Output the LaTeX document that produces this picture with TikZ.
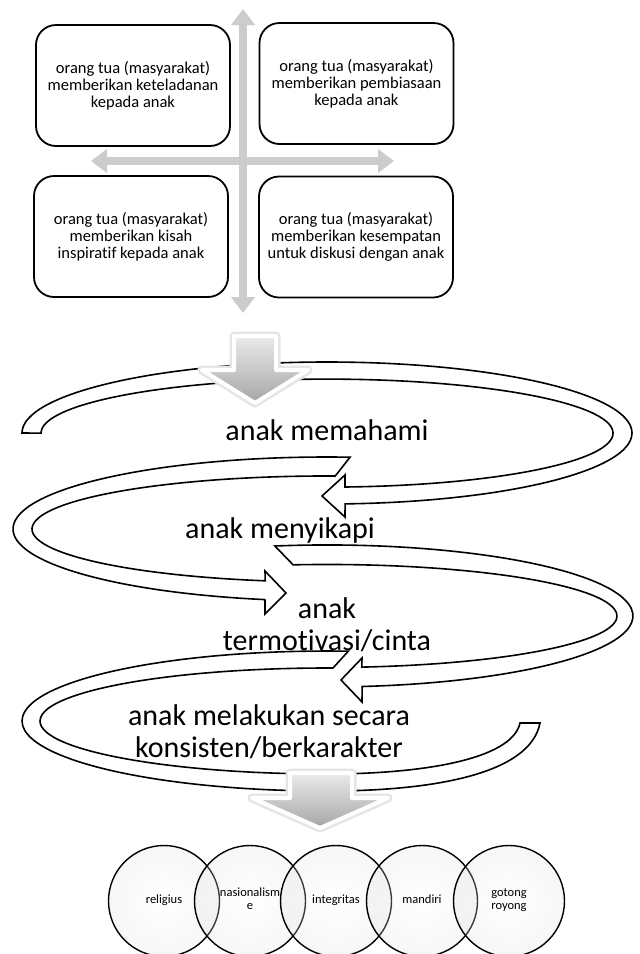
\documentclass[tikz,border=0pt]{standalone}
\usepackage{fontspec}
\setmainfont{Carlito}[Ligatures=NoCommon]
\usetikzlibrary{arrows.meta}

\begin{document}
\begin{tikzpicture}[x=1pt, y=-1pt,
  quad/.style={draw, line width=1.8pt, rounded corners=20pt, minimum width=194pt, minimum height=121pt, align=center, font=\fontsize{16.5}{17}\selectfont},
  axis/.style={draw=black!20, line width=8pt, {Triangle[width=23pt,length=16pt]}-{Triangle[width=23pt,length=16pt]}},
  band/.style={draw=black, line width=1.6pt, fill=white, line join=miter},
  bigarrow/.style={draw=white, line width=4pt, line join=round, top color=black!8, bottom color=black!35, preaction={draw=black!10, line width=9pt, line join=round}},
  step label/.style={anchor=base, align=center, font=\fontsize{30}{32}\selectfont},
  value/.style={circle, draw, line width=1.4pt, minimum size=111pt, inner sep=0pt, align=center, shading=radial, inner color=white, outer color=black!12, fill opacity=0.25, text opacity=1, execute at begin node=\strut, font=\fontsize{12.5}{13}\selectfont}]
\useasboundingbox[fill=white] (0,0) rectangle (640,954);

\node[quad] (keteladanan) at (133,85.5) {orang tua (masyarakat)\\memberikan keteladanan\\kepada anak};
\node[quad] (pembiasaan) at (356.5,83.5) {orang tua (masyarakat)\\memberikan pembiasaan\\kepada anak};
\node[quad] (kisah) at (131,236.5) {orang tua (masyarakat)\\memberikan kisah\\inspiratif kepada anak};
\node[quad] (diskusi) at (356,237) {orang tua (masyarakat)\\memberikan kesempatan\\untuk diskusi dengan anak};
\coordinate (up) at (243,9);
\coordinate (down) at (243,313);
\coordinate (left) at (91,161);
\coordinate (right) at (394,161);
\draw[axis] (up) -- (down);
\draw[axis] (left) -- (right);

\draw[band] (22,433) arc[start angle=180, end angle=446.6, x radius=305, y radius=71] -- (345,517) -- (322,496) -- (345,475) -- (345,487) arc[start angle=446.4, end angle=180, x radius=286, y radius=54] -- cycle;
\draw[band] (350,457.2) arc[start angle=274.2, end angle=101.4, x radius=314, y radius=72] -- (265,614) -- (286,593) -- (265,571) -- (265.2,580.8) arc[start angle=102.1, end angle=271.6, x radius=295, y radius=53] -- cycle;
\draw[band] (274.9,546) arc[start angle=260.2, end angle=443.4, x radius=306, y radius=71] -- (362,702) -- (341,680) -- (362,658) -- (361.8,667.1) arc[start angle=443.1, end angle=263.3, x radius=290, y radius=51.5] -- cycle;
\draw[band] (348.3,651.2) arc[start angle=274, end angle=90, x radius=305, y radius=70] .. controls (430,791) and (530,775) .. (540,723) -- (520,723) .. controls (512,760) and (420,774) .. (327,774) arc[start angle=90, end angle=271.2, x radius=287, y radius=53] -- cycle;

\draw[bigarrow] (234,336) -- (276,336) -- (276,370) -- (308,370) -- (255,403) -- (202,370) -- (234,370) -- cycle;
\draw[bigarrow] (290,773) -- (352,773) -- (352,798) -- (388,798) -- (320,828) -- (252,798) -- (290,798) -- cycle;

\node[step label] (memahami) at (327,440) {anak memahami};
\node[step label] (menyikapi) at (280,538) {anak menyikapi};
\node[step label] (termotivasi) at (327,650) {anak\\termotivasi/cinta};
\node[step label] (konsisten) at (269,757) {anak melakukan secara\\konsisten/berkarakter};

\node[value] (religius) at (164,901) {religius};
\node[value] (nasionalisme) at (250,901) {nasionalism\\e};
\node[value] (integritas) at (336,901) {integritas};
\node[value] (mandiri) at (422,901) {mandiri};
\node[value] (gotongroyong) at (509,901) {gotong\\royong};
\end{tikzpicture}
\end{document}
